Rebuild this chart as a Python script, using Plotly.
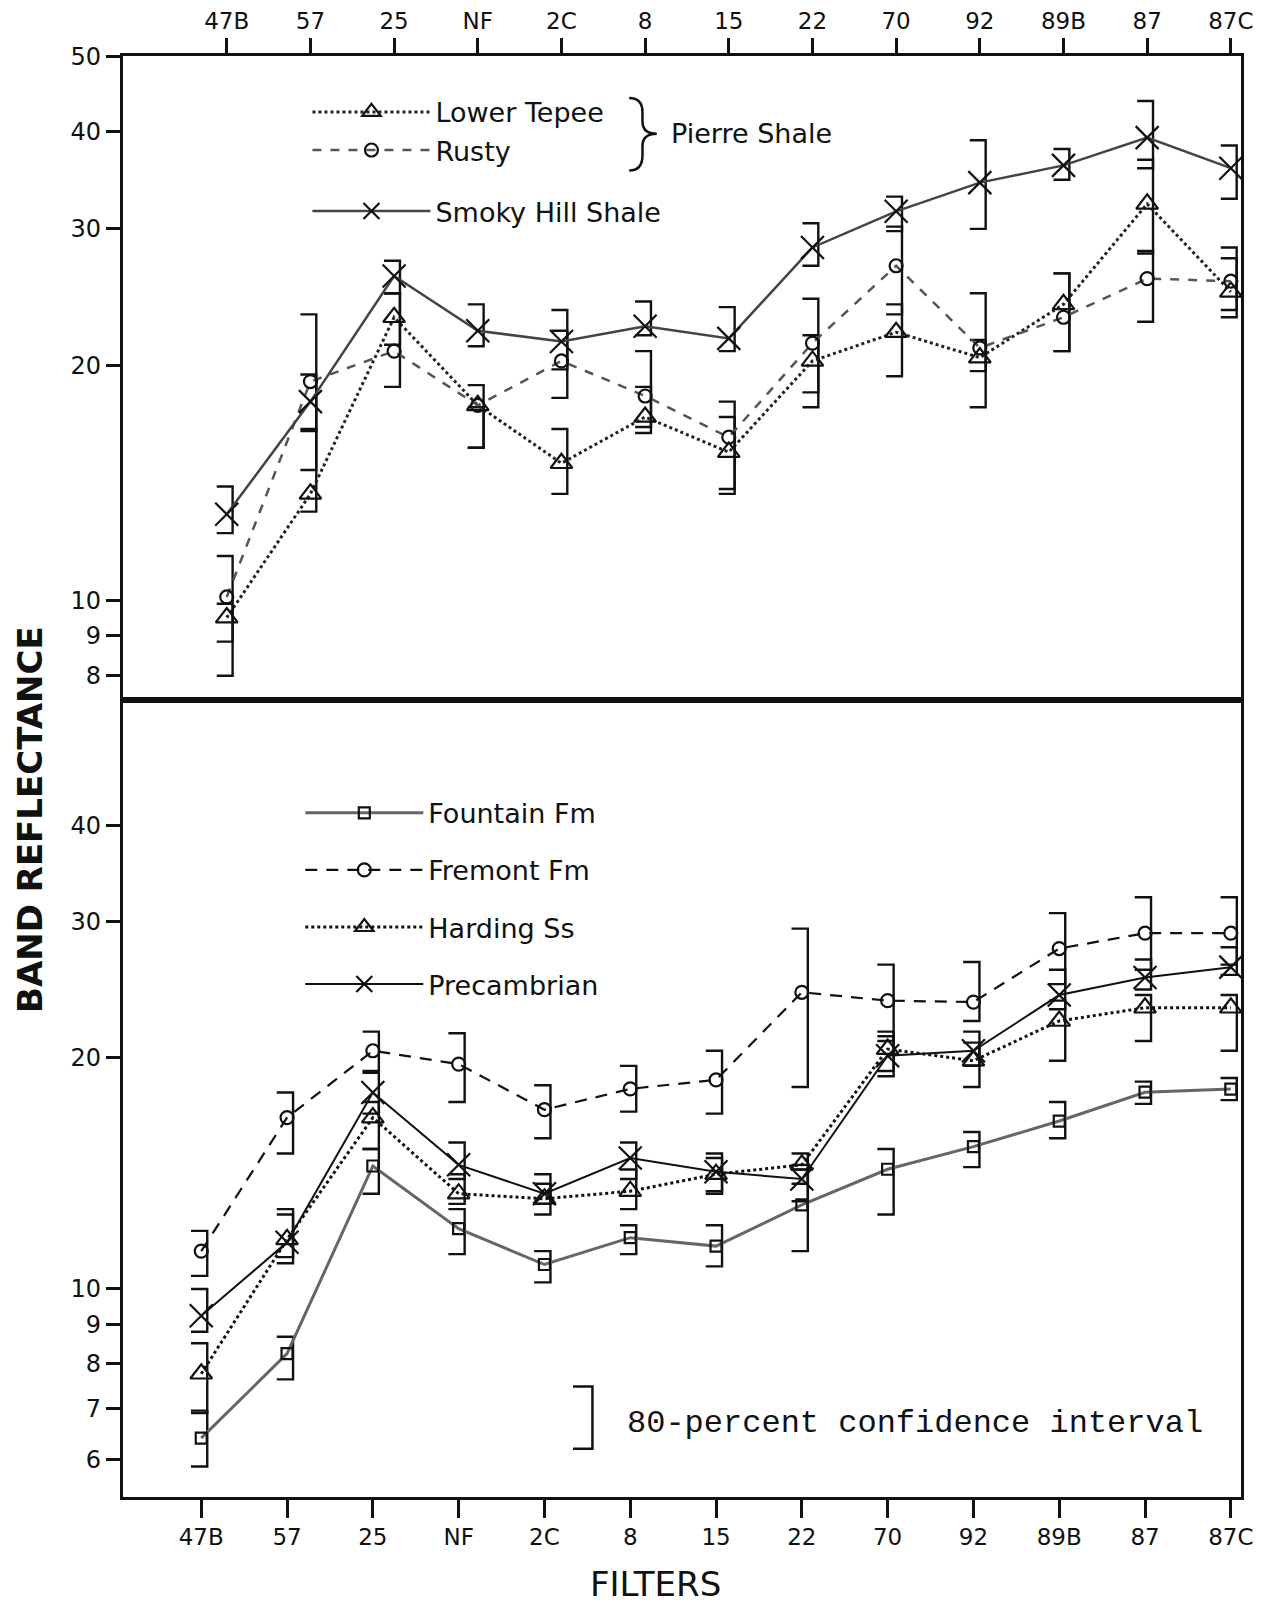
import math
import plotly.graph_objects as go

# ---------------- data ----------------
filters = ["47B", "57", "25", "NF", "2C", "8", "15", "22", "70", "92", "89B", "87", "87C"]

# Top panel: Pierre Shale (Lower Tepee, Rusty) and Smoky Hill Shale
lower_tepee    = [9.5, 13.7, 23.1, 17.8, 15.0, 17.2, 15.5, 20.3, 22.1, 20.5, 24.0, 32.3, 24.9]
lower_tepee_lo = [8.0, 13.0, 21.3, 15.7, 13.7, 16.4, 13.7, 17.7, 19.4, 19.7, 20.9, 27.9, 23.1]
lower_tepee_hi = [9.9, 16.6, 24.8, 17.7, 16.6, 18.8, 17.2, 21.9, 24.0, 21.6, 26.3, 36.8, 27.5]

rusty    = [10.1, 19.1, 20.9, 17.8, 20.3, 18.3, 16.2, 21.4, 26.9, 21.1, 23.1, 25.9, 25.7]
rusty_lo = [8.85, 14.7, 18.8, 15.7, 18.2, 16.7, 13.9, 18.5, 23.3, 17.7, 20.9, 22.8, 23.6]
rusty_hi = [11.4, 23.3, 24.8, 18.9, 22.2, 20.9, 18.0, 24.4, 30.2, 24.8, 26.3, 28.1, 28.4]

smoky    = [12.9, 18.0, 26.1, 22.2, 21.5, 22.5, 21.7, 28.4, 31.6, 34.4, 36.2, 39.3, 35.9]
smoky_lo = [12.2, 16.5, 24.8, 21.2, 19.8, 21.9, 20.9, 26.9, 29.8, 30.0, 34.7, 35.9, 32.8]
smoky_hi = [14.0, 19.5, 27.3, 24.0, 23.6, 24.2, 23.8, 30.5, 33.0, 39.0, 38.0, 43.8, 38.4]

# Bottom panel
fountain    = [6.4, 8.24, 14.45, 11.98, 10.76, 11.66, 11.37, 12.86, 14.31, 15.31, 16.53, 18.02, 18.19]
fountain_lo = [5.88, 7.63, 13.3, 11.1, 10.2, 11.1, 10.7, 11.2, 12.5, 14.4, 15.7, 17.4, 17.6]
fountain_hi = [6.95, 8.67, 15.2, 12.7, 11.2, 12.1, 12.1, 14.3, 15.2, 16.0, 17.5, 18.6, 18.8]

fremont    = [11.2, 16.7, 20.4, 19.6, 17.1, 18.2, 18.7, 24.3, 23.7, 23.6, 27.7, 29.0, 29.0]
fremont_lo = [10.4, 15.0, 19.1, 17.5, 15.7, 17.0, 16.9, 18.3, 21.0, 22.3, 24.9, 26.0, 26.4]
fremont_hi = [11.9, 18.0, 21.6, 21.5, 18.4, 19.5, 20.4, 29.4, 26.4, 26.6, 30.8, 32.3, 32.3]

harding    = [7.76, 11.6, 16.7, 13.3, 13.1, 13.4, 14.1, 14.5, 20.5, 19.8, 22.3, 23.2, 23.2]
harding_lo = [6.9, 10.8, 15.2, 12.9, 12.5, 12.7, 13.3, 13.7, 18.9, 18.3, 19.8, 21.0, 20.4]
harding_hi = [8.5, 12.5, 17.5, 14.1, 13.7, 14.3, 14.8, 15.0, 21.6, 20.9, 23.7, 24.1, 24.1]

precambrian    = [9.23, 11.5, 18.0, 14.5, 13.3, 14.8, 14.2, 13.9, 20.1, 20.4, 24.1, 25.4, 26.2]
precambrian_lo = [8.8, 11.0, 16.9, 13.9, 12.9, 13.9, 13.4, 13.0, 19.2, 19.5, 23.1, 24.5, 25.6]
precambrian_hi = [10.0, 12.7, 19.2, 15.5, 14.1, 15.5, 15.0, 14.5, 21.3, 21.6, 26.0, 26.8, 27.8]

top_ticks = [8, 9, 10, 20, 30, 40, 50]
bottom_ticks = [6, 7, 8, 9, 10, 20, 30, 40]

# ---------------- helpers ----------------
idx = list(range(len(filters)))
FONT = "DejaVu Sans"
W, H = 1287, 1602
PAGE_OFF = 8  # default body margin of the html page


def fx(xd):
    """reference (1260-wide view) x -> paper fraction"""
    return (xd * W / 1260 - PAGE_OFF) / W


def fy(yd):
    """reference (1568-high view) y -> paper fraction"""
    return 1 - (yd * H / 1568 - PAGE_OFF) / H


def bracket_xy(lo, hi, dx=0.07, w=0.19):
    """']'-shaped confidence bracket path built from the data arrays."""
    xs, ys = [], []
    for i, (a, b) in enumerate(zip(lo, hi)):
        if a is None or b is None:
            continue
        xc = i + dx
        xs += [xc - w, xc, xc, xc - w, None]
        ys += [b, b, a, a, None]
    return xs, ys


fig = go.Figure()


def add_series(name, y, lo, hi, xa, ya, dash, lcolor, lwidth, symbol, msize, legend):
    bx, by = bracket_xy(lo, hi)
    fig.add_trace(go.Scatter(x=bx, y=by, mode="lines", xaxis=xa, yaxis=ya,
                             line=dict(color="#111", width=2.4), showlegend=False,
                             hoverinfo="skip"))
    fig.add_trace(go.Scatter(
        x=idx, y=y, name=name, mode="lines+markers", xaxis=xa, yaxis=ya,
        legend=legend, legendgroup=name,
        line=dict(color=lcolor, width=lwidth, dash=dash),
        marker=dict(symbol=symbol, size=msize, color="#111",
                    line=dict(color="#111", width=2.2)),
    ))


# Top panel
add_series("Lower Tepee", lower_tepee, lower_tepee_lo, lower_tepee_hi, "x", "y",
           "dot", "#222", 3, "triangle-up-open", 19, "legend")
add_series("Rusty", rusty, rusty_lo, rusty_hi, "x", "y",
           "dash", "#555", 2.5, "circle-open", 13, "legend")
add_series("Smoky Hill Shale", smoky, smoky_lo, smoky_hi, "x", "y",
           "solid", "#444", 2.5, "x-thin", 23, "legend2")

# Bottom panel
add_series("Fountain Fm", fountain, fountain_lo, fountain_hi, "x2", "y2",
           "solid", "#666", 3, "square-open", 11, "legend3")
add_series("Fremont Fm", fremont, fremont_lo, fremont_hi, "x2", "y2",
           "12px,9px", "#111", 2.2, "circle-open", 13, "legend3")
add_series("Harding Ss", harding, harding_lo, harding_hi, "x2", "y2",
           "dot", "#111", 3, "triangle-up-open", 19, "legend3")
add_series("Precambrian", precambrian, precambrian_lo, precambrian_hi, "x2", "y2",
           "solid", "#111", 2, "x-thin", 23, "legend3")

# ---------------- layout ----------------
XDOM = [fx(120), fx(1215)]
axis_common = dict(showline=True, linecolor="#111", linewidth=2.5, mirror=True,
                   showgrid=False, zeroline=False, ticks="outside", tickcolor="#111",
                   tickwidth=2.5, automargin=False)
xtickfont = dict(family=FONT, size=23, color="#111")
ytickfont = dict(family=FONT, size=24, color="#111")

legend_common = dict(font=dict(family=FONT, size=27, color="#111"), bgcolor="rgba(0,0,0,0)",
                     borderwidth=0, xanchor="left", yanchor="top", tracegroupgap=0,
                     itemwidth=118, itemclick=False, itemdoubleclick=False)

fig.update_layout(
    width=W, height=H,
    paper_bgcolor="white", plot_bgcolor="white",
    margin=dict(l=0, r=0, t=0, b=0, autoexpand=False),
    xaxis=dict(domain=XDOM, anchor="y", side="top", range=[-1.245, 12.122],
               tickmode="array", tickvals=idx, ticktext=filters, ticklen=15,
               tickfont=xtickfont, **axis_common),
    yaxis=dict(domain=[fy(685), fy(55)], anchor="x", type="log",
               range=[math.log10(7.45), math.log10(50)], tickmode="array",
               tickvals=top_ticks, ticktext=[str(t) for t in top_ticks], ticklen=14,
               tickfont=ytickfont, **axis_common),
    xaxis2=dict(domain=XDOM, anchor="y2", side="bottom", range=[-0.917, 12.119],
                tickmode="array", tickvals=idx, ticktext=filters, ticklen=18,
                tickfont=xtickfont, **axis_common),
    yaxis2=dict(domain=[fy(1465), fy(685)], anchor="x2", type="log",
                range=[math.log10(5.37), math.log10(58.3)], tickmode="array",
                tickvals=bottom_ticks, ticktext=[str(t) for t in bottom_ticks], ticklen=14,
                tickfont=ytickfont, **axis_common),
    legend=dict(x=fx(301), y=fy(86), **legend_common),
    legend2=dict(x=fx(301), y=fy(183), **legend_common),
    legend3=dict(x=fx(294), y=fy(772), **{**legend_common, "tracegroupgap": 19}),
    showlegend=True,
)

ann_font = dict(family=FONT, size=27, color="#111")
# brace grouping the Pierre Shale members
bx0, bx1, bx2 = fx(616), fx(629), fx(643)
by0, by1, by2, by3, by4 = fy(96), fy(110), fy(131), fy(152), fy(167)
brace = (f"M{bx0},{by0} Q{bx1},{by0} {bx1},{by1} L{bx1},{fy(119)} "
         f"Q{bx1},{by2} {bx2},{by2} Q{bx1},{by2} {bx1},{fy(143)} "
         f"L{bx1},{by3} Q{bx1},{by4} {bx0},{by4}")
fig.add_shape(type="path", xref="paper", yref="paper", path=brace,
              line=dict(color="#111", width=2.5))
fig.add_annotation(x=fx(655), y=fy(131), xref="paper", yref="paper", text="Pierre Shale",
                   xanchor="left", yanchor="middle", showarrow=False, font=ann_font)
fig.add_annotation(x=fx(612), y=fy(1393), xref="paper", yref="paper",
                   text="80-percent confidence interval", xanchor="left", yanchor="middle",
                   showarrow=False, font=dict(family="Liberation Mono", size=32, color="#111"))
cx0, cx1 = fx(561), fx(580)
fig.add_shape(type="path", xref="paper", yref="paper",
              path=f"M{cx0},{fy(1357)} L{cx1},{fy(1357)} L{cx1},{fy(1418)} L{cx0},{fy(1418)}",
              line=dict(color="#111", width=2.5))
fig.add_annotation(x=fx(30), y=fy(802), xref="paper", yref="paper", text="BAND REFLECTANCE",
                   textangle=-90, xanchor="center", yanchor="middle", showarrow=False,
                   font=dict(family=FONT, size=34, color="#111", weight="bold"))
fig.add_annotation(x=fx(642), y=fy(1550), xref="paper", yref="paper", text="FILTERS",
                   xanchor="center", yanchor="middle", showarrow=False,
                   font=dict(family=FONT, size=34, color="#111"))

fig.write_html("out.html")
